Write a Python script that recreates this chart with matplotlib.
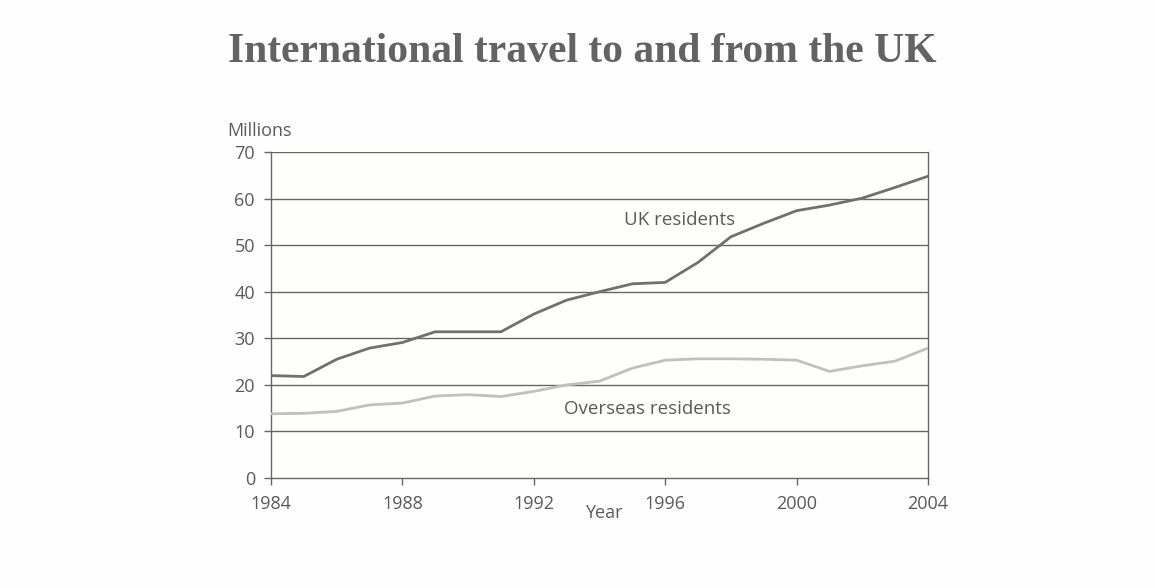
import matplotlib.pyplot as plt

years = list(range(1984, 2005))
uk_residents = [22.0, 21.8, 25.5, 27.9, 29.1, 31.4, 31.4, 31.4, 35.2, 38.2, 40.0,
                41.7, 42.0, 46.3, 51.8, 54.7, 57.4, 58.6, 60.1, 62.4, 64.8]
overseas_residents = [13.8, 13.9, 14.3, 15.7, 16.1, 17.6, 17.9, 17.5, 18.6, 20.0, 20.8,
                      23.6, 25.3, 25.6, 25.6, 25.5, 25.3, 22.9, 24.1, 25.1, 27.9]
x_ticks = [1984, 1988, 1992, 1996, 2000, 2004]
y_ticks = [0, 10, 20, 30, 40, 50, 60, 70]

text_col = "#5a5a5a"
plt.rcParams["font.family"] = ["Open Sans", "DejaVu Sans"]

fig = plt.figure(figsize=(11.55, 5.88), dpi=100, facecolor="#fefefe")
ax = fig.add_axes([0.2346, 0.187, 0.5689, 0.5545])
ax.set_facecolor("#fefefd")

for y in y_ticks[1:]:
    ax.axhline(y, color="#666666", lw=1.0, zorder=1)

ax.plot(years, overseas_residents, color="#c0c0c0", lw=2.0, zorder=3)
ax.plot(years, uk_residents, color="#707070", lw=2.0, zorder=4)

ax.set_xlim(1984, 2004)
ax.set_ylim(0, 70)
ax.set_xticks(x_ticks)
ax.set_yticks(y_ticks)
ax.tick_params(axis="both", colors="#666666", labelcolor=text_col, labelsize=13,
               length=5, width=1)
ax.tick_params(axis="x", pad=7)
ax.tick_params(axis="y", pad=6.5)
for side in ["left", "bottom", "right"]:
    ax.spines[side].set_color("#666666")
    ax.spines[side].set_linewidth(1.0)
ax.spines["top"].set_visible(False)

ax.text(1996.43, 55.4, "UK residents", color=text_col, fontsize=13.5,
        ha="center", va="center")
ax.text(1995.45, 14.9, "Overseas residents", color=text_col, fontsize=13.5,
        ha="center", va="center")

fig.text(0.197, 0.777, "Millions", color=text_col, fontsize=13, ha="left", va="center")
fig.text(0.523, 0.1276, "Year", color=text_col, fontsize=13, ha="center", va="center")
fig.text(0.504, 0.8946, "International travel to and from the UK", color="#636363",
         fontsize=30, fontweight="bold", family=["Liberation Serif", "DejaVu Serif"],
         ha="center", va="baseline")

fig.savefig("out.png", dpi=100, facecolor=fig.get_facecolor())
